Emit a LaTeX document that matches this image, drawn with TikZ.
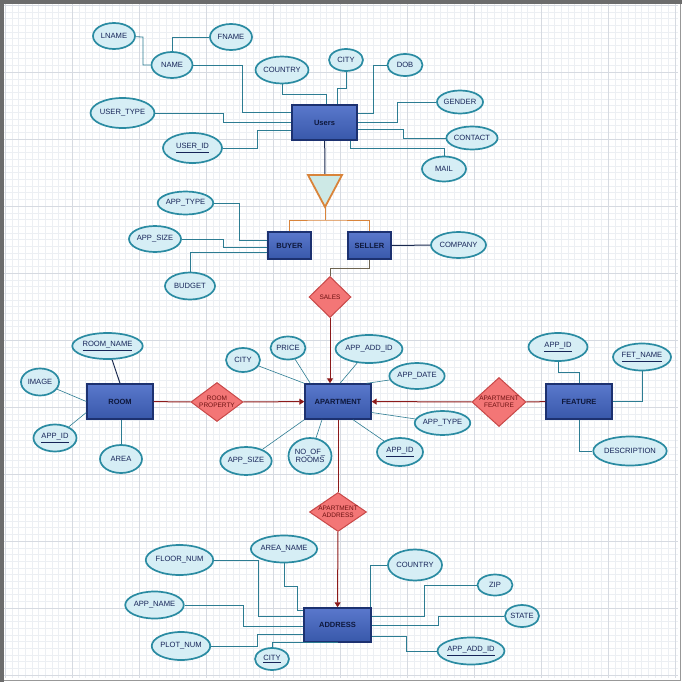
\documentclass[tikz,border=0pt]{standalone}
\usepackage{fontspec}
\setmainfont{Liberation Sans}
\usetikzlibrary{shapes.geometric,arrows.meta}
\definecolor{gridcol}{RGB}{236,239,243}
\definecolor{gridmaj}{RGB}{214,218,225}
\definecolor{framecol}{RGB}{108,108,108}
\definecolor{entline}{RGB}{28,49,112}
\definecolor{enttop}{RGB}{90,120,204}
\definecolor{entmid}{RGB}{136,160,222}
\definecolor{entbot}{RGB}{56,88,170}
\definecolor{enttext}{RGB}{14,24,60}
\definecolor{attfill}{RGB}{214,238,245}
\definecolor{attline}{RGB}{42,139,162}
\definecolor{atttext}{RGB}{22,36,88}
\definecolor{conline}{RGB}{44,124,146}
\definecolor{darkline}{RGB}{26,42,80}
\definecolor{relfill}{RGB}{243,118,118}
\definecolor{relline}{RGB}{200,72,72}
\definecolor{reltext}{RGB}{110,18,18}
\definecolor{redline}{RGB}{140,26,26}
\definecolor{isaline}{RGB}{217,132,58}
\definecolor{isafill}{RGB}{205,233,230}
\definecolor{sellline}{RGB}{110,100,80}
\tikzset{
  ent/.style 2 args={draw=entline,line width=1.4pt,top color=enttop,middle color=entmid,bottom color=entbot,
    minimum width=#1,minimum height=#2,inner sep=0pt,font=\fontsize{7.5}{8}\selectfont\bfseries,text=enttext},
  attr/.style 2 args={ellipse,draw=attline,line width=1.7pt,fill=attfill,minimum width=#1,minimum height=#2,
    inner sep=0pt,align=center,font=\fontsize{7.6}{8.5}\selectfont,text=atttext},
  rel/.style 2 args={diamond,draw=relline,line width=1pt,fill=relfill,minimum width=#1,minimum height=#2,inner sep=0pt},
  rellab/.style={font=\fontsize{6.5}{7.2}\selectfont,text=reltext,align=center},
  con/.style={draw=conline,line width=0.8pt},
  dcon/.style={draw=darkline,line width=1pt},
  rcon/.style={draw=redline,line width=1pt},
  isal/.style={draw=isaline,line width=1pt},
  tip/.style={-{Triangle[length=5pt,width=6pt]}},
}
\begin{document}
\begin{tikzpicture}[x=1pt,y=-1pt]
  \useasboundingbox (0,0) rectangle (682,682);
  \fill[white] (0,0) rectangle (682,682);
  % grid
  \foreach \k in {0,...,100} {
    \draw[gridcol,line width=0.35pt] ({5+6.7*\k},4) -- ({5+6.7*\k},678);
    \draw[gridcol,line width=0.35pt] (4,{5+6.7*\k}) -- (678,{5+6.7*\k});
  }
  \foreach \k in {0,...,10} {
    \draw[gridmaj,line width=0.5pt] ({5+67*\k},4) -- ({5+67*\k},678);
    \draw[gridmaj,line width=0.5pt] (4,{5+67*\k}) -- (678,{5+67*\k});
  }
  % frame
  \draw[framecol!70,line width=1.5pt] (680.5,2) -- (680.5,680.5) -- (2,680.5);
  \draw[framecol,line width=4pt] (2,682) -- (2,2) -- (682,2);

  % users
  \node[ent={65pt}{35pt}] (users) at (324.5,122.5) {Users};
  \node[attr={42pt}{26pt}] (lname) at (114,36) {LNAME};
  \node[attr={42pt}{26pt}] (fname) at (231,37) {FNAME};
  \node[attr={41pt}{26pt}] (uname) at (172,65) {NAME};
  \node[attr={50pt}{27pt}] (ucountry) at (282,70) {COUNTRY};
  \node[attr={34pt}{22pt}] (ucity) at (346,60) {CITY};
  \node[attr={35pt}{22pt}] (udob) at (405,65) {DOB};
  \node[attr={44pt}{23pt}] (ugender) at (460,102) {GENDER};
  \node[attr={47pt}{23pt}] (ucontact) at (472,138) {CONTACT};
  \node[attr={44pt}{25pt}] (umail) at (444,169) {MAIL};
  \node[attr={59pt}{30pt}] (utype) at (122.5,113) {USER\_TYPE};
  \node[attr={59pt}{30pt}] (uid) at (192.5,148) {\underline{USER\_ID}};
  \draw[con] (lname) -- (143,37) |- (uname);
  \draw[con] (uname) |- (fname);
  \draw[con] (uname) -| (242,112) -- (users.west |- 0,112);
  \draw[con] (utype) -| (223,122) -- (users.west |- 0,122);
  \draw[con] (uid) -| (257,130) -- (users.west |- 0,130);
  \draw[con] (ucountry) |- (326,94) -- (users.north -| 326,0);
  \draw[con] (ucity) |- (337,88) -- (users.north -| 337,0);
  \draw[con] (udob) -| (373,113) -- (users.east |- 0,113);
  \draw[con] (ugender) -| (397,122) -- (users.east |- 0,122);
  \draw[con] (ucontact) -| (403,129) -- (users.east |- 0,129);
  \draw[con] (umail) |- (350,148) -- (users.south -| 350,0);

  % isa
  \coordinate (isatop) at (325,175);
  \coordinate (isa) at (325,207);
  \coordinate (isajoin) at (325,220);
  \draw[dcon] (users) -- (isatop);
  \draw[isal,line width=1.8pt,fill=isafill,line join=miter] (308,175) -- (342,175) -- (isa) -- cycle;
  \node[ent={43pt}{27pt}] (buyer) at (289.5,245.5) {BUYER};
  \node[ent={43pt}{27pt}] (seller) at (369.5,245.5) {SELLER};
  \draw[isal] (isa) -- (isajoin);
  \draw[isal] (buyer.north) |- (isajoin) -| (seller.north);
  \node[attr={49pt}{23pt}] (btype) at (185.5,203) {APP\_TYPE};
  \node[attr={52pt}{26pt}] (bsize) at (155,239) {APP\_SIZE};
  \node[attr={50pt}{27pt}] (bbudget) at (190,286) {BUDGET};
  \node[attr={55pt}{26pt}] (company) at (458.5,245) {COMPANY};
  \draw[con] (btype) -| (239,240) -- (buyer.west |- 0,240);
  \draw[con] (bsize) -| (223,247) -- (buyer.west |- 0,247);
  \draw[con] (bbudget) |- (buyer.west |- 0,252);
  \draw[dcon] (seller) -- (company);

  % sales
  \node[rel={42pt}{41pt},label={[rellab]center:SALES}] (sales) at (330,297) {};
  \draw[sellline,line width=0.8pt] (seller) |- (330,268) -- (sales);

  % apartment
  \node[ent={66pt}{35pt}] (apartment) at (338,401.5) {APARTMENT};
  \draw[rcon,tip] (sales) -- (sales |- apartment.north);
  \node[attr={34pt}{24pt}] (acity) at (243,360) {CITY};
  \node[attr={35pt}{23pt}] (aprice) at (288,348) {PRICE};
  \node[attr={62pt}{28pt}] (aaddid) at (369,349) {APP\_ADD\_ID};
  \node[attr={50pt}{26pt}] (adate) at (417,376) {APP\_DATE};
  \node[attr={49pt}{24pt}] (atype) at (442.5,423) {APP\_TYPE};
  \node[attr={46pt}{28pt}] (aappid) at (400,452) {\underline{APP\_ID}};
  \node[attr={43pt}{36pt}] (arooms) at (310,456) {NO\_OF\_\\ROOMS};
  \node[attr={49pt}{28pt}] (asize) at (246,461) {APP\_SIZE};
  \draw[con,line width=0.6pt] (acity) -- (apartment.north west);
  \draw[con,line width=0.6pt] (aprice) -- ([xshift=6pt]apartment.north west);
  \draw[con,line width=0.6pt] (aaddid) -- ([xshift=2pt]apartment.north);
  \draw[con,line width=0.6pt] (adate) -- ([xshift=-5pt]apartment.north east);
  \draw[con,line width=0.6pt] (atype) -- ([yshift=-11pt]apartment.east);
  \draw[con,line width=0.6pt] (aappid) -- ([xshift=15pt]apartment.south);
  \draw[con,line width=0.6pt] (arooms) -- ([xshift=-16pt]apartment.south);
  \draw[con,line width=0.6pt] (asize) -- (apartment.south west);

  % room
  \node[ent={66pt}{35pt}] (room) at (120,401.5) {ROOM};
  \node[attr={67pt}{26pt}] (rname) at (107.5,346) {\underline{ROOM\_NAME}};
  \node[attr={38pt}{27pt}] (rimage) at (40,382) {IMAGE};
  \node[attr={43pt}{27pt}] (rappid) at (55,438) {\underline{APP\_ID}};
  \node[attr={42pt}{28pt}] (rarea) at (121,459) {AREA};
  \draw[dcon] (rname) -- (room.north);
  \draw[con,line width=0.6pt] (rimage) -- (room.west);
  \draw[con,line width=0.6pt] (rappid) -- ([yshift=-11pt]room.west);
  \draw[con] (rarea) -- (rarea |- room.south);
  \node[rel={52pt}{39pt},label={[rellab]center:ROOM\\PROPERTY}] (roomprop) at (217,402) {};
  \draw[rcon] (room) -- (roomprop);
  \draw[rcon,tip] (roomprop) -- (apartment);

  % feature
  \node[ent={66pt}{35pt}] (feature) at (579,401.5) {FEATURE};
  \node[attr={59pt}{28pt}] (fappid) at (558,347) {\underline{APP\_ID}};
  \node[attr={58pt}{27pt}] (fetname) at (642,357) {\underline{FET\_NAME}};
  \node[attr={66pt}{29pt}] (fdesc) at (630,451) {DESCRIPTION};
  \draw[con] (fappid) |- (579,372) -- (feature.north);
  \draw[con] (fetname) |- (feature.east);
  \draw[con] (feature) |- (fdesc);
  \node[rel={54pt}{49pt},label={[rellab]center:APARTMENT\\FEATURE}] (aptfeat) at (499,402) {};
  \draw[rcon] (feature) -- (aptfeat);
  \draw[rcon,tip] (aptfeat) -- (apartment);

  % address
  \node[rel={57pt}{39pt},label={[rellab]center:APARTMENT\\ADDRESS}] (aptaddr) at (338,512) {};
  \node[ent={67pt}{34pt}] (address) at (337.5,625) {ADDRESS};
  \draw[rcon] (apartment) -- (aptaddr);
  \draw[rcon,tip] (aptaddr) -- (address);
  \node[attr={65pt}{30pt}] (dfloor) at (179.5,560) {FLOOR\_NUM};
  \node[attr={62pt}{27pt}] (darea) at (284,549) {AREA\_NAME};
  \node[attr={54pt}{31pt}] (dcountry) at (415,565) {COUNTRY};
  \node[attr={35pt}{21pt}] (dzip) at (495,585) {ZIP};
  \node[attr={34pt}{22pt}] (dstate) at (522,616) {STATE};
  \node[attr={61pt}{27pt}] (daddid) at (471,651) {\underline{APP\_ADD\_ID}};
  \node[attr={34pt}{22pt}] (dcity) at (272,659) {\underline{CITY}};
  \node[attr={58pt}{28pt}] (dplot) at (181,646) {PLOT\_NUM};
  \node[attr={55pt}{27pt}] (dappname) at (154.5,605) {APP\_NAME};
  \draw[con] (dfloor) -| (258,616) -- (address.west |- 0,616);
  \draw[con] (darea) |- (297,586) |- (address.west |- 0,610);
  \draw[con] (dappname) -| (243,626) -- (address.west |- 0,626);
  \draw[con] (dplot) -| (257,634) -- (address.west |- 0,634);
  \draw[con] (dcity) |- (address.south);
  \draw[con] (dcountry) -| ([xshift=-1pt]address.north east);
  \draw[con] (dzip) -| (424,616) -- (address.east |- 0,616);
  \draw[con] (dstate) -| (438,625) -- (address.east |- 0,625);
  \draw[con] (daddid) -| (406,636) -- (address.east |- 0,636);
\end{tikzpicture}
\end{document}
